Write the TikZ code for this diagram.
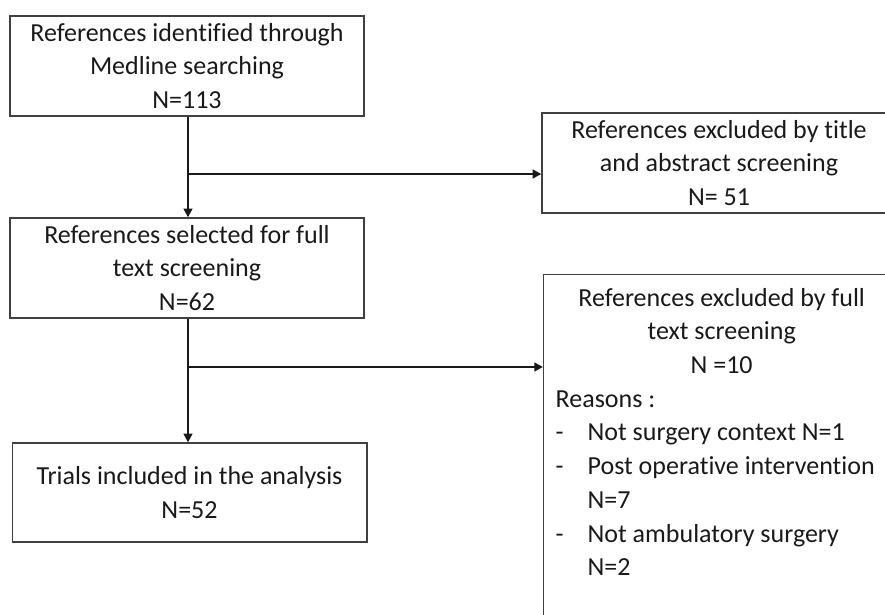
\documentclass[tikz,border=0pt]{standalone}
\usepackage{fontspec}
\setmainfont{Carlito}[Ligatures=NoCommon]
\usetikzlibrary{arrows.meta}
\begin{document}
\begin{tikzpicture}[x=0.75pt,y=-0.75pt,
  font=\fontsize{19.5}{25.3}\selectfont, text=black!90,
  box/.style={draw=black!75,line width=1pt,rectangle,align=center,minimum width=265.5pt,minimum height=75pt,inner sep=0pt},
  flow/.style={draw=black!90,line width=1.7pt,-{Triangle[length=6.5pt,width=6.5pt]}}]
\useasboundingbox (0,0) rectangle (885,614);
\clip (0,0) rectangle (885,614);
\node[box] (b1) at (187,66) {References identified through\\Medline searching\\N=113};
\node[box] (b2) at (187,268) {References selected for full\\text screening\\N=62};
\node[box] (b3) at (719,163) {References excluded by title\\and abstract screening\\N= 51};
\node[box,minimum width=266pt,minimum height=74.25pt] (b4) at (189.5,492.5) {Trials included in the analysis\\N=52};
\node[box,anchor=north west,minimum height=0pt,text width=249pt,align=flush left,inner xsep=9pt,inner ysep=10pt] (b5) at (543,274)
  {{\centering References excluded by full\\text screening\\N =10\par}
   Reasons :\\
   \makebox[24pt][l]{-}Not surgery context N=1\\
   \makebox[24pt][l]{-}Post operative intervention\\
   \hspace*{24pt}N=7\\
   \makebox[24pt][l]{-}Not ambulatory surgery\\
   \hspace*{24pt}N=2\par\vspace*{40pt}};
\coordinate (j1) at (188,174);
\coordinate (j2) at (188,367);
\draw[flow] (b1.south -| j1) -- (b2.north -| j1);
\draw[flow] (b2.south -| j2) -- (b4.north -| j2);
\draw[flow] (j1) -- (j1 -| b3.west);
\draw[flow] (j2) -- (j2 -| b5.west);
\end{tikzpicture}
\end{document}
